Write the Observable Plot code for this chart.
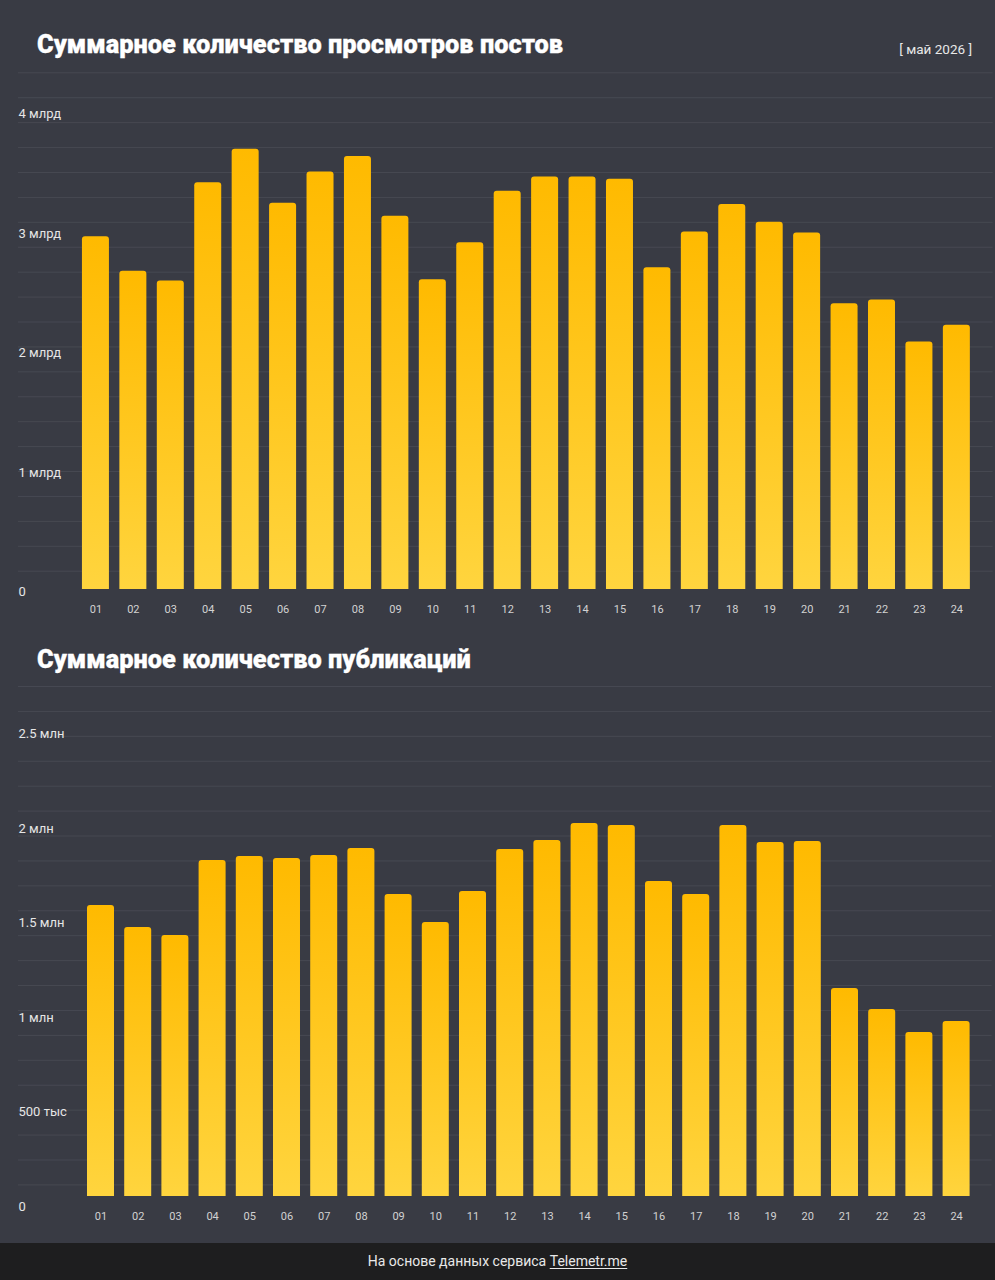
<!DOCTYPE html>
<html>
<head>
<meta charset="utf-8">
<script src="https://cdn.jsdelivr.net/npm/d3@7"></script>
<script src="https://cdn.jsdelivr.net/npm/@observablehq/plot@0.6"></script>
<style>
  html, body { margin: 0; padding: 0; }
  body { width: 995px; height: 1280px; overflow: hidden; background: #393b44; font-family: Roboto, "Noto Sans", sans-serif; position: relative; }
  .title { position: absolute; left: 37px; font-size: 25.4px; line-height: 25px; font-weight: 900; color: #ffffff; white-space: nowrap; -webkit-text-stroke: 0.3px #ffffff; }
  .period { position: absolute; right: 23px; top: 43px; font-size: 13.5px; line-height: 13.5px; color: #e8e8e8; white-space: nowrap; }
  .chart { position: absolute; left: 0; }
  .footer { position: absolute; left: 0; top: 1243px; width: 995px; height: 37px; background: #1e1e1f; color: #e8e8e8; font-size: 14px; line-height: 37px; text-align: center; }
  .footer u { text-decoration: underline; text-underline-offset: 2px; }
</style>
</head>
<body>
<div class="title" style="top:32px">Суммарное количество просмотров постов</div>
<div class="period">[ май 2026 ]</div>
<div class="chart" id="c1" style="top:60px"></div>
<div class="title" style="top:647px">Суммарное количество публикаций</div>
<div class="chart" id="c2" style="top:670px"></div>
<div class="footer">На основе данных сервиса <u>Telemetr.me</u></div>
<script>
// ---- data ----
const days = ["01","02","03","04","05","06","07","08","09","10","11","12","13","14","15","16","17","18","19","20","21","22","23","24"];

// Суммарное количество просмотров постов (млрд)
const viewsBn = [2.95, 2.66, 2.58, 3.40, 3.68, 3.23, 3.49, 3.62, 3.12, 2.59, 2.90, 3.33, 3.45, 3.45, 3.43, 2.69, 2.99, 3.22, 3.07, 2.98, 2.39, 2.42, 2.07, 2.21];

// Суммарное количество публикаций (тыс)
const postsK = [1539, 1423, 1380, 1777, 1798, 1788, 1803, 1840, 1597, 1449, 1613, 1835, 1883, 1973, 1962, 1666, 1597, 1962, 1872, 1877, 1100, 989, 867, 926];

const viewsTicks = [0, 1e9, 2e9, 3e9, 4e9];
const viewsTickLabels = ["0", "1 млрд", "2 млрд", "3 млрд", "4 млрд"];
const postsTicks = [0, 5e5, 1e6, 1.5e6, 2e6, 2.5e6];
const postsTickLabels = ["0", "500 тыс", "1 млн", "1.5 млн", "2 млн", "2.5 млн"];

// ---- helpers ----
function gradientDefs(id) {
  return () => {
    const ns = "http://www.w3.org/2000/svg";
    const d = document.createElementNS(ns, "defs");
    d.innerHTML = `<linearGradient id="${id}" x1="0" y1="0" x2="0" y2="1">
      <stop offset="0" stop-color="#ffba00"/>
      <stop offset="1" stop-color="#ffd53f"/></linearGradient>`;
    return d;
  };
}

function barChart({values, ticks, tickLabels, yMax, marginLeft, marginRight, marginTop, marginBottom, padding, gridTop, gridStep, gridInsetLeft, gridInsetRight, labelDy, gradId}) {
  const rows = days.map((d, i) => ({day: d, value: values[i]}));
  const grid = d3.range(21).map(k => gridTop - k * gridStep);
  const tickRows = ticks.map((t, i) => ({v: t, label: tickLabels[i]}));
  return Plot.plot({
    width: 995,
    height: 565,
    marginLeft, marginRight, marginTop, marginBottom,
    style: {background: "transparent", fontFamily: "Roboto, 'Noto Sans', sans-serif", overflow: "visible"},
    x: {domain: days, padding, round: false, axis: null},
    y: {domain: [0, yMax], axis: null},
    marks: [
      gradientDefs(gradId),
      Plot.ruleY(grid, {y: d => d, stroke: "#474952", strokeWidth: 1, insetLeft: gridInsetLeft, insetRight: gridInsetRight}),
      Plot.barY(rows, {x: "day", y: "value", fill: `url(#${gradId})`, rx: 3, insetBottom: -4, clip: true}),
      Plot.text(tickRows, {y: "v", text: "label", frameAnchor: "left", textAnchor: "start", lineAnchor: "middle", dx: gridInsetLeft, dy: labelDy, fill: "#e6e6e6", fontSize: 13}),
      Plot.text(days, {x: d => d, text: d => d, frameAnchor: "bottom", lineAnchor: "middle", dy: 20, fill: "#d2d2d2", fontSize: 11})
    ]
  });
}

// Chart 1: views
document.getElementById("c1").append(barChart({
  values: viewsBn.map(v => v * 1e9),
  ticks: viewsTicks, tickLabels: viewsTickLabels,
  yMax: 4.4e9,
  marginLeft: 71.5, marginRight: 14.7, marginTop: 2.76, marginBottom: 36,
  padding: 0.279,
  gridTop: 4.3202e9, gridStep: 0.20836e9,
  gridInsetLeft: -(71.5 - 18), gridInsetRight: -(980.3 - 968),
  labelDy: 2.7,
  gradId: "barGrad1"
}));

// Chart 2: posts
document.getElementById("c2").append(barChart({
  values: postsK.map(v => v * 1e3),
  ticks: postsTicks, tickLabels: postsTickLabels,
  yMax: 2.75e6,
  marginLeft: 76.8, marginRight: 15.2, marginTop: 6.03, marginBottom: 39,
  padding: 0.2742,
  gridTop: 2.6973e6, gridStep: 0.13180e6,
  gridInsetLeft: -(76.8 - 18), gridInsetRight: -(979.8 - 968),
  labelDy: 10,
  gradId: "barGrad2"
}));
</script>
</body>
</html>
